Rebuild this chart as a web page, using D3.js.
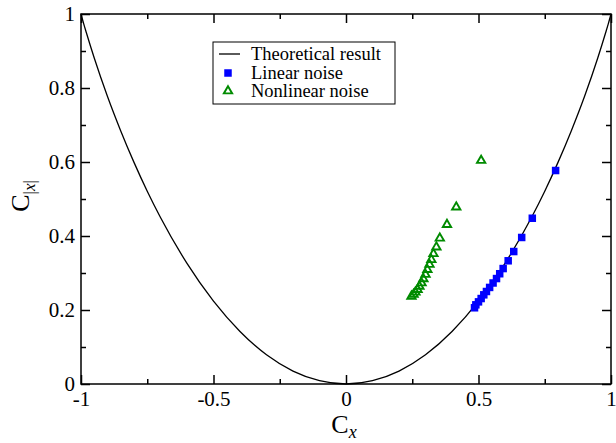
<!DOCTYPE html>
<html>
<head>
<meta charset="utf-8">
<script src="https://cdn.jsdelivr.net/npm/d3@7"></script>
<style>
  body { margin: 0; background: #fff; }
  text { font-family: "Liberation Serif", "Times New Roman", serif; fill: #000; }
</style>
</head>
<body>
<div id="chart"></div>
<script>
// theoretical curve
const theoryX = [-1, -0.99, -0.98, -0.95, -0.9, -0.85, -0.8, -0.75, -0.7, -0.6, -0.5, -0.4, -0.3, -0.2, -0.1, 0,
                 0.1, 0.2, 0.3, 0.4, 0.5, 0.6, 0.7, 0.75, 0.8, 0.85, 0.9, 0.95, 0.98, 0.99, 1];
const theoryY = [1, 0.974, 0.950, 0.881, 0.777, 0.684, 0.599, 0.521, 0.450, 0.326, 0.224, 0.142, 0.079, 0.035, 0.009, 0,
                 0.009, 0.035, 0.079, 0.142, 0.224, 0.326, 0.450, 0.521, 0.599, 0.684, 0.777, 0.881, 0.950, 0.974, 1];

// linear noise (blue squares)
const linearX = [0.791, 0.703, 0.663, 0.633, 0.612, 0.593, 0.580, 0.568, 0.555, 0.542, 0.530, 0.520, 0.510, 0.500, 0.490, 0.485];
const linearY = [0.577, 0.448, 0.396, 0.358, 0.333, 0.312, 0.298, 0.285, 0.273, 0.261, 0.250, 0.241, 0.231, 0.222, 0.214, 0.206];

// nonlinear noise (green triangles)
const nonlinX = [0.510, 0.416, 0.381, 0.354, 0.341, 0.330, 0.322, 0.315, 0.307, 0.300, 0.292, 0.285, 0.277, 0.270, 0.262, 0.255, 0.247];
const nonlinY = [0.604, 0.478, 0.431, 0.394, 0.370, 0.352, 0.336, 0.323, 0.309, 0.296, 0.284, 0.273, 0.264, 0.255, 0.248, 0.242, 0.237];

const xTicks = [-1, -0.5, 0, 0.5, 1];
const xTickLabels = ["-1", "-0.5", "0", "0.5", "1"];
const xMinor = [-0.75, -0.25, 0.25, 0.75];
const yTicks = [0, 0.2, 0.4, 0.6, 0.8, 1];
const yTickLabels = ["0", "0.2", "0.4", "0.6", "0.8", "1"];
const yMinor = [0.1, 0.3, 0.5, 0.7, 0.9];

const legendNames = ["Theoretical result", "Linear noise", "Nonlinear noise"];

const width = 616, height = 443;
const margin = { top: 14, right: 5, bottom: 59, left: 81 };

const svg = d3.select("#chart").append("svg")
  .attr("width", width)
  .attr("height", height);

const x = d3.scaleLinear().domain([-1, 1]).range([margin.left, width - margin.right]);
const y = d3.scaleLinear().domain([0, 1]).range([height - margin.bottom, margin.top]);

const green = "#008b00";

// ticks on all four sides, pointing inward
function addAxis(axis, tx, ty) {
  const g = svg.append("g").attr("transform", `translate(${tx},${ty})`).call(axis);
  g.select(".domain").remove();
  g.selectAll(".tick line").attr("stroke", "#000").attr("stroke-width", 1.5);
  g.selectAll("text").attr("font-size", 21).attr("fill", "#000")
    .attr("font-family", "'Liberation Serif', 'Times New Roman', serif");
  return g;
}
const fmtX = d => xTickLabels[xTicks.indexOf(d)];
const fmtY = d => yTickLabels[yTicks.indexOf(d)];

addAxis(d3.axisBottom(x).tickValues(xTicks).tickFormat(fmtX).tickSizeInner(-9).tickSizeOuter(0).tickPadding(7), 0, y(0));
addAxis(d3.axisBottom(x).tickValues(xMinor).tickFormat("").tickSizeInner(-5).tickSizeOuter(0), 0, y(0));
addAxis(d3.axisTop(x).tickValues(xTicks).tickFormat("").tickSizeInner(-9).tickSizeOuter(0), 0, y(1));
addAxis(d3.axisTop(x).tickValues(xMinor).tickFormat("").tickSizeInner(-5).tickSizeOuter(0), 0, y(1));
addAxis(d3.axisLeft(y).tickValues(yTicks).tickFormat(fmtY).tickSizeInner(-9).tickSizeOuter(0).tickPadding(6), x(-1), 0);
addAxis(d3.axisLeft(y).tickValues(yMinor).tickFormat("").tickSizeInner(-5).tickSizeOuter(0), x(-1), 0);
addAxis(d3.axisRight(y).tickValues(yTicks).tickFormat("").tickSizeInner(-9).tickSizeOuter(0), x(1), 0);
addAxis(d3.axisRight(y).tickValues(yMinor).tickFormat("").tickSizeInner(-5).tickSizeOuter(0), x(1), 0);

// frame
svg.append("rect")
  .attr("x", x(-1)).attr("y", y(1))
  .attr("width", x(1) - x(-1)).attr("height", y(0) - y(1))
  .attr("fill", "none").attr("stroke", "#000").attr("stroke-width", 1.5);

// theoretical curve
const theory = theoryX.map((v, i) => [v, theoryY[i]]);
svg.append("path")
  .datum(theory)
  .attr("fill", "none")
  .attr("stroke", "#000")
  .attr("stroke-width", 1.3)
  .attr("d", d3.line().x(d => x(d[0])).y(d => y(d[1])).curve(d3.curveMonotoneX));

// linear noise squares
const sq = 7.5;
svg.selectAll("rect.lin")
  .data(linearX.map((v, i) => [v, linearY[i]]))
  .enter().append("rect")
  .attr("class", "lin")
  .attr("x", d => x(d[0]) - sq / 2)
  .attr("y", d => y(d[1]) - sq / 2)
  .attr("width", sq).attr("height", sq)
  .attr("fill", "#0000ff");

// nonlinear noise triangles
const tri = d3.symbol().type(d3.symbolTriangle).size(30);
svg.selectAll("path.nl")
  .data(nonlinX.map((v, i) => [v, nonlinY[i]]))
  .enter().append("path")
  .attr("class", "nl")
  .attr("transform", d => `translate(${x(d[0])},${y(d[1])})`)
  .attr("d", tri)
  .attr("fill", "none")
  .attr("stroke", green)
  .attr("stroke-width", 1.9);

// axis titles
const xt = svg.append("text")
  .attr("x", x(0) - 2).attr("y", 433)
  .attr("text-anchor", "middle")
  .attr("font-size", 26);
xt.append("tspan").text("C");
xt.append("tspan").attr("font-size", 18).attr("font-style", "italic").attr("dy", 5).text("x");

const yt = svg.append("text")
  .attr("transform", "translate(29,196) rotate(-90)")
  .attr("text-anchor", "middle")
  .attr("font-size", 26);
yt.append("tspan").text("C");
yt.append("tspan").attr("font-size", 17).attr("dy", 6).text("|");
yt.append("tspan").attr("font-size", 17).attr("font-style", "italic").text("x");
yt.append("tspan").attr("font-size", 17).text("|");

// legend
const lg = svg.append("g");
lg.append("rect")
  .attr("x", 213).attr("y", 42).attr("width", 182).attr("height", 62)
  .attr("fill", "#fff").attr("stroke", "#000").attr("stroke-width", 1);
lg.append("line")
  .attr("x1", 219).attr("x2", 240).attr("y1", 54).attr("y2", 54)
  .attr("stroke", "#000").attr("stroke-width", 1.3);
lg.append("rect")
  .attr("x", 228 - sq / 2).attr("y", 73 - sq / 2).attr("width", sq).attr("height", sq)
  .attr("fill", "#0000ff");
lg.append("path")
  .attr("transform", "translate(228,91)")
  .attr("d", tri)
  .attr("fill", "none").attr("stroke", green).attr("stroke-width", 1.9);
lg.selectAll("text.lab")
  .data(legendNames)
  .enter().append("text")
  .attr("class", "lab")
  .attr("x", 251)
  .attr("y", (d, i) => 60 + i * 18.5)
  .attr("font-size", 18.5)
  .text(d => d);
</script>
</body>
</html>
